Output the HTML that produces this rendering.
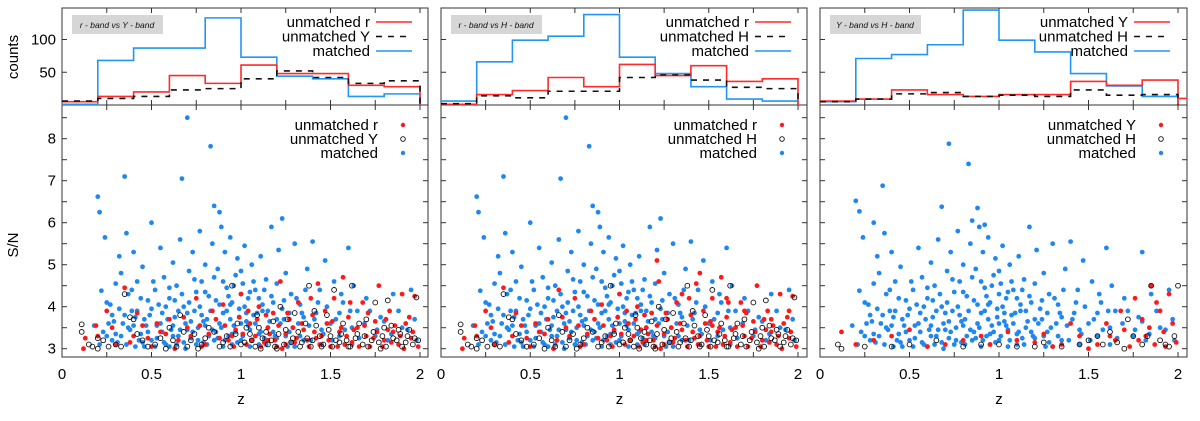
<!DOCTYPE html>
<html><head><meta charset="utf-8"><style>
body{margin:0;background:#fff;}
svg{display:block;font-family:"Liberation Sans",sans-serif;}
</style></head><body>
<svg id="c" width="1200" height="421" viewBox="0 0 1200 421"></svg>
<script>
const binEdges=[0,0.2,0.4,0.6,0.8,1.0,1.2,1.4,1.6,1.8,2.0];
const p1HistRed=[5,13,20,45,33,61,48,48,30,28];
const p1HistBlack=[6,10,13,23,25,40,52,42,33,37];
const p1HistBlue=[1,68,87,87,133,73,44,40,13,17];
const p2HistRed=[1,16,22,42,28,62,45,60,36,40];
const p2HistBlack=[2,14,11,21,21,42,46,38,27,25];
const p2HistBlue=[6,66,99,105,138,73,48,28,9,6];
const p3HistRed=[6,9,23,16,13,16,16,36,30,38];
const p3HistBlack=[5,9,17,19,13,15,13,23,15,16];
const p3HistBlue=[5,71,77,92,145,99,81,48,29,13];
const histTicks=[50,100];
const snTicks=[3,4,5,6,7,8];
const zTicks=[0,0.5,1,1.5,2];
const blueBody=[0.18,3.55,0.22,4.38,0.24,5.65,0.25,3.3,0.27,4.05,0.28,3.8,0.3,4.55,0.31,3.15,0.32,5.2,0.33,4.8,0.34,3.6,0.36,5.75,0.37,4.3,0.38,3.45,0.39,3.9,0.4,5.3,0.41,3.05,0.42,4.6,0.44,3.35,0.45,4.95,0.46,3.7,0.48,4.15,0.5,3.2,0.52,4.4,0.53,3.55,0.55,5.4,0.56,3.85,0.57,4.7,0.58,3.1,0.6,4.2,0.61,3.45,0.62,5.05,0.63,3.75,0.64,4.5,0.65,3.3,0.66,5.6,0.68,4.0,0.69,3.6,0.71,4.85,0.72,3.25,0.73,5.3,0.74,3.9,0.75,4.35,0.76,3.5,0.77,5.8,0.78,4.6,0.79,3.15,0.8,5.0,0.81,3.7,0.82,4.25,0.84,5.5,0.86,3.4,0.87,4.9,0.89,5.9,0.9,3.85,0.91,5.3,0.92,4.45,0.93,3.3,0.94,5.65,0.95,4.1,0.96,3.55,0.97,4.75,0.98,5.15,0.99,3.95,1.0,3.2,1.01,4.55,1.02,5.45,1.03,3.65,1.04,4.2,1.05,3.05,1.06,5.0,1.07,3.8,1.08,4.4,1.1,3.35,1.11,5.2,1.12,3.9,1.14,4.65,1.15,3.5,1.17,5.9,1.18,4.1,1.2,3.25,1.21,5.35,1.24,3.7,1.25,4.8,1.27,3.4,1.28,4.3,1.3,5.5,1.32,3.6,1.33,4.05,1.35,3.2,1.37,4.9,1.38,3.55,1.4,5.55,1.42,3.85,1.44,4.4,1.45,3.1,1.47,5.1,1.5,3.6,1.52,4.6,1.55,3.3,1.57,4.1,1.6,5.4,1.62,3.5,1.65,3.9,1.7,4.2,1.75,3.3,1.78,3.75,1.82,3.2,1.85,4.3,1.9,3.5,1.95,4.4,1.98,3.2,0.3,3.35,0.45,3.15,0.55,3.6,0.6,3.05,0.65,3.9,0.7,3.45,0.75,3.1,0.8,3.55,0.85,3.2,0.9,3.05,0.95,3.35,1.0,3.6,1.05,3.45,1.1,3.1,1.15,3.9,1.2,3.7,1.25,3.3,1.3,3.05,0.35,3.8,0.4,3.55,0.5,3.95,0.58,4.0,0.62,3.3,0.68,3.15,0.72,3.65,0.78,3.8,0.82,3.3,0.88,3.6,0.92,3.9,0.98,3.15,1.03,3.85,1.08,3.6,1.13,3.25,1.18,3.4,1.23,3.95,1.28,3.15,1.35,3.75,1.45,3.45,1.55,3.85,1.62,3.1,0.26,3.6,0.42,3.9,0.48,3.4,0.52,3.05,0.86,4.15,0.94,4.05,1.0,4.3,1.12,4.05];
const blueDense=[0.21,3.1,0.23,3.4,0.25,4.1,0.28,3.2,0.29,3.65,0.32,3.95,0.33,3.3,0.36,3.1,0.37,3.5,0.39,4.4,0.41,3.75,0.43,3.2,0.44,4.2,0.46,3.05,0.47,3.55,0.49,3.8,0.51,4.6,0.53,3.25,0.54,4.05,0.56,3.4,0.57,3.15,0.59,3.7,0.6,4.45,0.62,3.55,0.63,4.15,0.64,3.1,0.66,3.45,0.67,4.3,0.69,3.0,0.7,3.85,0.71,4.1,0.73,3.4,0.74,4.65,0.76,3.2,0.77,4.0,0.79,3.65,0.8,4.35,0.81,3.1,0.83,3.9,0.84,3.45,0.85,4.7,0.87,3.25,0.88,4.05,0.89,3.5,0.9,4.6,0.91,3.2,0.93,4.25,0.94,3.7,0.95,3.1,0.96,4.5,0.97,3.4,0.99,3.75,1.0,4.85,1.01,3.3,1.02,4.0,1.04,3.55,1.05,4.35,1.06,3.2,1.07,4.6,1.09,3.85,1.1,4.2,1.11,3.4,1.13,4.4,1.14,3.1,1.16,3.65,1.17,4.25,1.19,3.3,1.2,4.55,1.22,3.6,1.24,4.15,1.26,3.05,1.27,3.85,1.29,3.5,1.31,4.2,1.33,3.3,1.34,3.85,1.36,4.4,1.39,3.2,1.41,3.7,1.43,4.1,1.46,3.35,1.48,4.0,1.51,3.2,1.53,3.7,1.56,4.3,1.58,3.45,1.61,3.9,1.63,4.5,1.66,3.25,1.69,3.6,1.72,3.9,1.76,3.45,1.8,3.65,1.84,3.35,1.88,3.9,1.93,3.45,1.97,3.7];
const blueOutP12=[0.2,6.62,0.21,6.25,0.35,7.1,0.5,6.0,0.67,7.05,0.7,8.5,0.83,7.82,0.85,6.4,0.88,6.25,1.23,6.1];
const blueOutP3=[0.72,7.88,0.83,7.4,0.35,6.88,0.2,6.52,0.22,6.27,0.68,6.38,0.3,6.0,0.88,6.35,0.92,5.95,1.8,5.3,0.85,6.05];
const redP1=[0.12,3.0,0.13,3.25,0.19,3.55,0.25,3.9,0.3,3.1,0.35,4.45,0.4,3.3,0.45,3.55,0.5,3.05,0.55,3.4,0.6,3.7,0.65,3.2,0.7,3.5,0.75,4.2,0.78,3.05,0.82,3.35,0.86,3.7,0.9,4.05,0.93,3.2,0.97,3.45,1.0,4.3,1.03,3.1,1.05,3.6,1.08,3.3,1.1,4.0,1.13,3.15,1.15,3.5,1.18,3.85,1.2,3.05,1.22,4.6,1.25,3.35,1.27,3.7,1.3,3.15,1.32,4.1,1.35,3.45,1.38,3.05,1.4,3.8,1.43,4.55,1.45,3.3,1.48,3.6,1.5,3.05,1.52,4.2,1.55,3.4,1.57,4.7,1.6,3.75,1.62,3.15,1.65,3.5,1.68,4.1,1.7,3.3,1.72,3.05,1.75,3.65,1.77,4.5,1.8,3.2,1.83,3.9,1.85,3.4,1.88,3.1,1.9,4.3,1.92,3.6,1.95,3.25,1.97,4.25,1.99,3.05,1.15,3.2,1.25,3.1,0.95,3.3,1.42,3.25,1.58,3.1,1.82,3.45];
const redDense=[0.2,3.3,0.28,3.5,0.38,3.15,0.42,3.85,0.48,3.25,0.53,3.6,0.58,3.35,0.63,3.0,0.68,3.75,0.72,3.3,0.77,3.55,0.8,3.1,0.84,3.9,0.88,3.25,0.91,3.55,0.96,3.05,0.99,3.75,1.01,3.35,1.04,3.9,1.06,3.2,1.09,3.7,1.11,3.05,1.14,3.8,1.16,3.35,1.19,3.2,1.21,3.55,1.23,3.0,1.26,3.85,1.29,3.5,1.31,3.25,1.34,3.6,1.37,3.2,1.39,4.2,1.41,3.4,1.44,3.1,1.47,3.9,1.49,3.2,1.51,3.65,1.54,3.05,1.56,3.5,1.59,3.3,1.61,4.1,1.63,3.45,1.66,3.05,1.69,3.55,1.71,3.85,1.74,3.25,1.76,3.4,1.79,3.05,1.81,3.7,1.84,3.15,1.86,3.55,1.89,3.3,1.91,3.0,1.94,3.75,1.96,3.4];
const redP2Extra=[1.21,5.1,1.35,4.3,1.45,4.8,1.6,4.2,1.7,3.9,1.85,3.7,1.95,3.9,1.12,3.45,1.52,3.55,0.66,4.4];
const blackP1=[0.11,3.58,0.11,3.4,0.15,3.1,0.17,3.05,0.2,3.0,0.2,3.25,0.26,3.05,0.3,3.1,0.35,4.3,0.38,3.75,0.4,3.7,0.45,3.2,0.52,3.1,0.58,3.0,0.62,3.2,0.66,3.8,0.7,3.05,0.74,3.35,0.78,3.1,0.82,3.5,0.88,3.05,0.92,3.3,0.95,4.5,0.98,3.6,1.02,3.15,1.05,3.35,1.08,3.05,1.1,3.5,1.12,3.25,1.15,3.1,1.18,3.65,1.2,3.0,1.22,4.0,1.25,3.45,1.28,3.15,1.3,3.85,1.33,3.05,1.36,3.6,1.38,4.5,1.4,3.2,1.42,3.55,1.45,3.05,1.48,3.8,1.5,3.3,1.52,4.4,1.55,3.15,1.57,3.6,1.6,3.05,1.62,4.5,1.65,3.35,1.68,3.1,1.7,3.7,1.73,3.2,1.75,4.1,1.78,3.0,1.8,3.5,1.82,4.15,1.85,3.25,1.88,3.45,1.9,3.05,1.93,3.3,1.96,3.1,1.98,4.22,1.99,3.2];
const blackDense=[0.23,3.2,0.33,3.05,0.42,3.35,0.48,3.05,0.55,3.25,0.6,3.5,0.64,3.05,0.68,3.4,0.72,3.2,0.76,3.0,0.8,3.25,0.85,3.4,0.9,3.15,0.94,3.05,0.97,3.35,1.0,3.1,1.03,3.5,1.06,3.2,1.09,3.8,1.11,3.0,1.14,3.4,1.17,3.2,1.19,3.05,1.21,3.35,1.24,3.1,1.26,3.7,1.29,3.25,1.32,3.4,1.34,3.15,1.37,3.25,1.39,3.05,1.41,3.9,1.44,3.3,1.46,3.1,1.49,3.45,1.51,3.05,1.53,3.2,1.56,3.35,1.59,3.2,1.61,3.05,1.64,3.25,1.66,3.6,1.69,3.3,1.71,3.05,1.74,3.4,1.77,3.15,1.79,3.3,1.81,3.05,1.84,3.55,1.87,3.2,1.89,3.35,1.92,3.15,1.94,3.45,1.97,3.25];
const redP3=[0.12,3.4,0.2,3.1,0.4,3.3,0.6,3.05,0.8,3.2,0.95,3.1,1.05,3.4,1.2,3.15,1.3,3.05,1.45,3.3,1.55,3.1,1.6,3.6,1.65,3.2,1.7,3.45,1.73,3.05,1.76,4.2,1.8,3.7,1.82,3.3,1.85,4.5,1.87,3.1,1.9,3.9,1.92,3.4,1.95,4.3,1.97,3.6,1.99,3.15,1.78,3.2,1.88,4.1,1.93,3.05,1.4,3.6,1.5,3.0,0.3,3.2,0.5,3.45,0.7,3.1,0.9,3.3,1.1,3.2,1.25,3.35,1.35,3.1,1.62,3.3,1.68,3.9,1.84,3.5];
const blackP3=[0.1,3.1,0.12,3.0,0.25,3.05,0.5,3.1,0.65,3.2,0.8,3.05,1.0,3.1,1.1,3.05,1.25,3.15,1.35,3.05,1.5,3.2,1.58,3.1,1.62,3.4,1.7,3.0,1.75,3.3,1.8,3.1,1.85,4.5,1.9,3.2,1.95,3.05,2.0,4.5,1.98,3.3,1.72,3.7,0.4,3.05,0.9,3.1,1.2,3.05,1.45,3.1,1.55,3.3,1.66,3.15,1.83,3.3,1.93,3.1];

const panels=[
 {x0:62,x2:420,xr:428,title:'r - band vs Y - band',a:'r',b:'Y',hr:p1HistRed,hk:p1HistBlack,hb:p1HistBlue,sr:redP1.concat(redDense),sk:blackP1.concat(blackDense),sb:blueBody.concat(blueDense,blueOutP12),tail:null},
 {x0:441,x2:798,xr:807,title:'r - band vs H - band',a:'r',b:'H',hr:p2HistRed,hk:p2HistBlack,hb:p2HistBlue,sr:redP1.concat(redDense,redP2Extra),sk:blackP1.concat(blackDense),sb:blueBody.concat(blueDense,blueOutP12),tail:null},
 {x0:820,x2:1178,xr:1187,title:'Y - band vs H - band',a:'Y',b:'H',hr:p3HistRed,hk:p3HistBlack,hb:p3HistBlue,sr:redP3,sk:blackP3,sb:blueBody.concat(blueDense,blueOutP3),tail:10}
];
const HT=8,HB=105,SB=357;
const hy=c=>HB-c*0.655;
const sy=v=>348.7-(v-3)*42;
const svg=document.getElementById('c');
const NS='http://www.w3.org/2000/svg';
function mk(t,a,p){const e=document.createElementNS(NS,t);for(const k in a)e.setAttribute(k,a[k]);(p||svg).appendChild(e);return e;}
function txt(s,x,y,a,p){const e=mk('text',a,p);e.setAttribute('x',x);e.setAttribute('y',y);e.textContent=s;return e;}

let t=txt('counts',0,0,{'font-size':15,'text-anchor':'middle',transform:'translate(18,57) rotate(-90)'});


t=txt('S/N',0,0,{'font-size':15,'text-anchor':'middle',transform:'translate(18,245) rotate(-90)'});



panels.forEach((P,pi)=>{
 const g=mk('g',{});
 
 
 const xs=z=>P.x0+z*(P.x2-P.x0)/2;
 let r=mk('rect',{x:P.x0,y:HT,width:P.xr-P.x0,height:HB-HT,fill:'none',stroke:'#333','stroke-width':1},g);
 
 
 r=mk('rect',{x:P.x0,y:HB,width:P.xr-P.x0,height:SB-HB,fill:'none',stroke:'#333','stroke-width':1},g);
 
 
 for(let i=0;i<=8;i++){const x=xs(i*0.25);
  mk('line',{x1:x,x2:x,y1:HB,y2:HB-5,stroke:'#333'},g);
  mk('line',{x1:x,x2:x,y1:HB,y2:HB+5,stroke:'#333'},g);
  mk('line',{x1:x,x2:x,y1:SB,y2:SB-5,stroke:'#333'},g);
  mk('line',{x1:x,x2:x,y1:HT,y2:HT+5,stroke:'#333'},g);}
 zTicks.forEach(z=>{const e=txt(String(z),xs(z),379,{'font-size':15,'text-anchor':'middle'},g);
  
  });
 const zl=txt('z',(P.x0+P.x2)/2,404,{'font-size':15,'text-anchor':'middle'},g);
 
 
 histTicks.forEach(c=>{mk('line',{x1:P.x0,x2:P.x0+5,y1:hy(c),y2:hy(c),stroke:'#333'},g);mk('line',{x1:P.xr,x2:P.xr-5,y1:hy(c),y2:hy(c),stroke:'#333'},g);
  if(pi==0){const e=txt(String(c),56,hy(c)+5,{'font-size':15,'text-anchor':'end'},g);
   
   }});
 for(let v=3;v<=8.5;v+=0.5){mk('line',{x1:P.x0,x2:P.x0+5,y1:sy(v),y2:sy(v),stroke:'#333'},g);mk('line',{x1:P.xr,x2:P.xr-5,y1:sy(v),y2:sy(v),stroke:'#333'},g);}
 if(pi==0)snTicks.forEach(v=>{const e=txt(String(v),56,sy(v)+5,{'font-size':15,'text-anchor':'end'},g);
   
   });
 const tb=mk('rect',{x:P.x0+10,y:15,width:91,height:19,fill:'#d6d6d6'},g);
 
 
 const tt=txt(P.title,P.x0+55,28,{'font-size':8.5,'font-style':'italic','text-anchor':'middle',fill:'#111'},g);
 
 
 function hist(vals,color,dash,name){let d='M'+xs(0)+','+hy(vals[0]);
  vals.forEach((v,i)=>{d+=' L'+xs(binEdges[i])+','+hy(v)+' L'+xs(binEdges[i+1])+','+hy(v);
   if(i<vals.length-1)d+=' L'+xs(binEdges[i+1])+','+hy(vals[i+1]);});
  d+=' L'+xs(2)+','+hy(0);
  const p=mk('path',{d:d,fill:'none',stroke:color,'stroke-width':1.6,'stroke-dasharray':dash||'none'},g);
  
  }
 hist(P.hb,'#2196f3',null,'histogram-matched');
 hist(P.hr,'#ff2a2a',null,'histogram-unmatched-'+P.a);
 hist(P.hk,'#111','6,6','histogram-unmatched-'+P.b);
 if(P.tail){const p=mk('path',{d:'M'+xs(2)+','+hy(P.tail)+' L'+P.xr+','+hy(P.tail),stroke:'#ff2a2a','stroke-width':1.6,fill:'none'},g);
  
  }
 const lx=P.x0+308;
 [['unmatched '+P.a,'#ff2a2a',null],['unmatched '+P.b,'#111','6,6'],['matched','#2196f3',null]].forEach((L,i)=>{
  const y=22+i*14.5;
  const e=txt(L[0],lx,y+5,{'font-size':15,'text-anchor':'end'},g);
  
  
  const l=mk('line',{x1:lx+6,x2:lx+42,y1:y,y2:y,stroke:L[1],'stroke-width':1.6,'stroke-dasharray':L[2]||'none'},g);
  
  });
 function pts(arr,type,name){for(let i=0;i<arr.length;i+=2){let c;
  if(type=='k')c=mk('circle',{cx:xs(arr[i]),cy:sy(arr[i+1]),r:2.4,fill:'none',stroke:'#111','stroke-width':0.9},g);
  else c=mk('circle',{cx:xs(arr[i]),cy:sy(arr[i+1]),r:2.4,fill:type},g);
  
  }}
 pts(P.sb,'#1e88f0','point-matched');
 pts(P.sr,'#ff1a1a','point-unmatched-'+P.a);
 pts(P.sk,'k','point-unmatched-'+P.b);
 const sx=P.x0+316;
 [['unmatched '+P.a,'#ff1a1a'],['unmatched '+P.b,'k'],['matched','#1e88f0']].forEach((L,i)=>{
  const y=125+i*14;
  const e=txt(L[0],sx,y+5,{'font-size':15,'text-anchor':'end'},g);
  
  
  let m;
  if(L[1]=='k')m=mk('circle',{cx:sx+25,cy:y,r:2.3,fill:'none',stroke:'#111','stroke-width':0.9},g);
  else m=mk('circle',{cx:sx+25,cy:y,r:2.2,fill:L[1]},g);
  
  });
});
</script>
</body></html>
